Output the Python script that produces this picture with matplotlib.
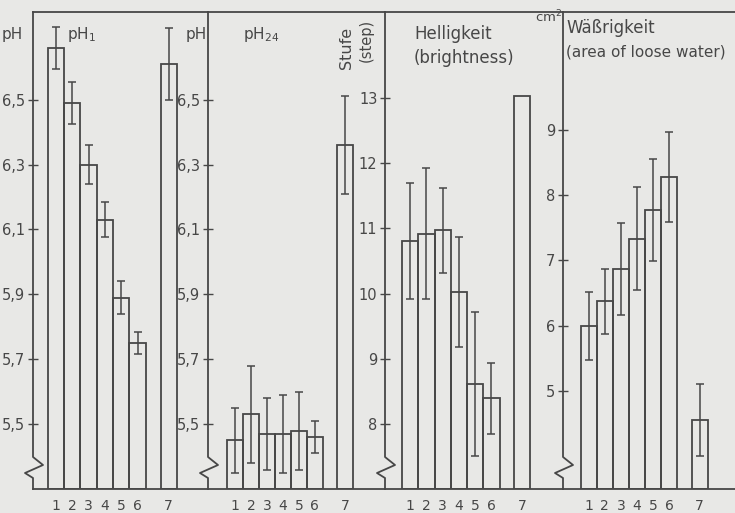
import matplotlib
matplotlib.use("Agg")
import matplotlib.pyplot as plt

# bar positions (bar 7 is set apart from 1-6)
positions = [1, 2, 3, 4, 5, 6, 7.9]
tick_labels = ["1", "2", "3", "4", "5", "6", "7"]

ph1 = [6.66, 6.49, 6.30, 6.13, 5.89, 5.75, 6.61]
ph1_err = [0.065, 0.065, 0.06, 0.053, 0.05, 0.035, 0.11]

ph24 = [5.45, 5.53, 5.47, 5.47, 5.48, 5.46, 6.36]
ph24_err = [0.10, 0.15, 0.11, 0.12, 0.12, 0.05, 0.15]

brightness = [10.81, 10.92, 10.97, 10.02, 8.61, 8.39, 13.03]
brightness_err = [0.89, 1.0, 0.65, 0.84, 1.1, 0.55, 0]

water = [6.0, 6.37, 6.87, 7.33, 7.77, 8.28, 4.55]
water_err = [0.52, 0.5, 0.7, 0.79, 0.78, 0.69, 0.55]

ph_ticks = [5.5, 5.7, 5.9, 6.1, 6.3, 6.5]
step_ticks = [8, 9, 10, 11, 12, 13]
water_ticks = [5, 6, 7, 8, 9]

BG = "#e8e8e6"
INK = "#474747"
W, H = 735, 513
TOP, BASE = 12, 489

plt.rcParams['font.family'] = 'DejaVu Sans'
fig = plt.figure(figsize=(W / 100, H / 100), dpi=100, facecolor=BG)


def make_panel(x0, x1, xlim, ylim, values, errs, yticks):
    ax = fig.add_axes([x0 / W, (H - BASE) / H, (x1 - x0) / W, (BASE - TOP) / H])
    ax.set_facecolor(BG)
    lo = ylim[0]
    # bars start at the bottom of the broken axis
    ax.bar(positions, [v - lo for v in values], width=1.0, bottom=lo,
           color='none', edgecolor=INK, linewidth=1.3)
    for p, v, e in zip(positions, values, errs):
        if e > 0:
            ax.errorbar(p, v, yerr=e, color=INK, elinewidth=1.1,
                        capsize=3, capthick=1.1, fmt='none')
    ax.set_xlim(*xlim)
    ax.set_ylim(*ylim)
    ax.set_xticks(positions)
    ax.set_xticklabels(tick_labels, fontsize=10, color=INK)
    ax.tick_params(axis='x', length=0, pad=7)
    ax.set_yticks(yticks)
    ax.set_yticklabels([("%g" % t).replace(".", ",") for t in yticks],
                       fontsize=10.5, color=INK)
    ax.tick_params(axis='y', direction='inout', length=7, width=1,
                   color=INK, pad=2)
    for side in ['left', 'right']:
        ax.spines[side].set_visible(False)
    for side in ['top', 'bottom']:
        ax.spines[side].set_color(INK)
        ax.spines[side].set_linewidth(1.3)
    # left axis with the zigzag break near the bottom
    wpx, hpx = x1 - x0, BASE - TOP
    ys = [1, (BASE - 457) / hpx, (BASE - 465) / hpx, (BASE - 473) / hpx,
          (BASE - 478) / hpx, 0]
    xs = [0, 0, 10 / wpx, -8 / wpx, 0, 0]
    ax.plot(xs, ys, transform=ax.transAxes, color=INK, lw=1.3, clip_on=False)
    return ax


make_panel(33, 208, (-0.4, 10.3), (5.3, 6.77), ph1, ph1_err, ph_ticks)
make_panel(208, 385, (-0.7, 10.4), (5.3, 6.77), ph24, ph24_err, ph_ticks)
make_panel(385, 563, (-0.55, 10.4), (7.0, 14.32), brightness, brightness_err, step_ticks)
make_panel(563, 735, (-0.6, 10.1), (3.5, 10.8), water, water_err, water_ticks)


def ftext(x, y, s, **kw):
    kw.setdefault('color', INK)
    kw.setdefault('va', 'center')
    fig.text(x / W, 1 - y / H, s, **kw)


ftext(2, 34, "pH", fontsize=11)
ftext(67, 34, r"pH$_1$", fontsize=11)
ftext(207, 34, "pH", fontsize=11, ha='right')
ftext(243, 34, r"pH$_{24}$", fontsize=11)
ftext(347, 48, "Stufe", fontsize=11.5, rotation=90, ha='center')
ftext(366, 40, "(step)", fontsize=10.5, rotation=90, ha='center')
ftext(414, 34, "Helligkeit", fontsize=12)
ftext(414, 58, "(brightness)", fontsize=12)
ftext(562, 17, r"cm$^2$", fontsize=9.5, ha='right')
ftext(566, 28, "Wäßrigkeit", fontsize=12)
ftext(566, 52, "(area of loose water)", fontsize=11)

fig.savefig("out.png", dpi=100, facecolor=BG)
